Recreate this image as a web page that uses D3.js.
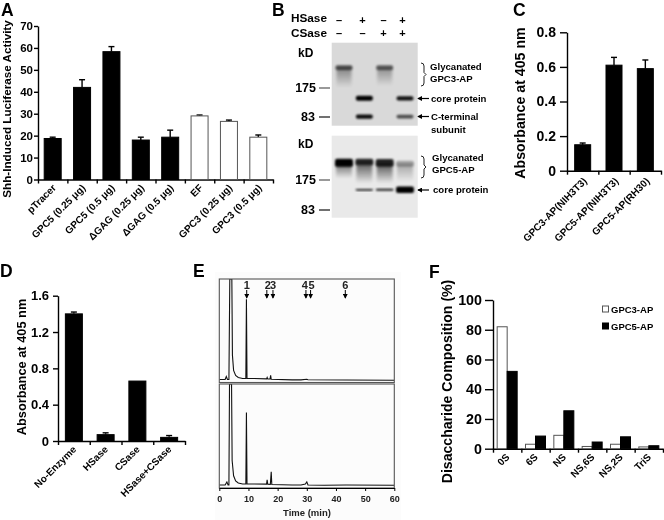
<!DOCTYPE html>
<html><head><meta charset="utf-8">
<style>html,body{margin:0;padding:0;background:#fff}svg{display:block;font-family:"Liberation Sans",Arial,sans-serif;font-weight:bold;fill:#000;filter:blur(0.35px)}</style>
<script src="https://cdn.jsdelivr.net/npm/d3@7/dist/d3.min.js"></script></head><body>
<svg id="c" width="664" height="520"></svg>
<script>
// Panel A
const aCats=["pTracer","GPC5 (0.25 μg)","GPC5 (0.5 μg)","ΔGAG (0.25 μg)","ΔGAG (0.5 μg)","EF","GPC3 (0.25 μg)","GPC3 (0.5 μg)"];
const aVals=[18.7,42,58.3,18,19.3,29,26.5,19.3];
const aErrs=[0.6,3.5,2.3,1.3,3.2,0.4,0.6,1];
const aFill=["k","k","k","k","k","w","w","w"];
const aTicks=[0,10,20,30,40,50,60,70];
// Panel C
const cCats=["GPC3-AP(NIH3T3)","GPC5-AP(NIH3T3)","GPC5-AP(RH30)"];
const cVals=[0.15,0.61,0.59];
const cErrs=[0.01,0.045,0.05];
const cTicks=[0,0.2,0.4,0.6,0.8];
// Panel D
const dCats=["No-Enzyme","HSase","CSase","HSase+CSase"];
const dVals=[1.4,0.07,0.66,0.04];
const dErrs=[0.02,0.02,0,0.02];
const dTicks=[0,0.4,0.8,1.2,1.6];
// Panel F
const fCats=["0S","6S","NS","NS,6S","NS,2S","TriS"];
const fGPC3=[82,3,9,1.5,3,1.2];
const fGPC5=[52,8.5,25.5,4.5,8,2];
const fTicks=[0,20,40,60,80,100];
// Panel E: chromatograms [minutes, % of full scale]
const eTop=[[0,1],[2,1],[2.4,4],[2.8,1],[3.3,1],[3.6,100],[4.3,100],[4.5,25],[4.9,10],[5.6,5],[6.5,3],[8,2],[9.1,2],[9.3,80],[9.5,2],[12,2],[16.2,1.6],[16.4,3],[16.6,1.5],[17.4,1.5],[17.6,5],[17.8,1.2],[25,0.6],[28,0.6],[30,1.2],[30.4,0.8],[43.5,0.5],[60,0.3]];
const eBot=[[0,1],[2,1],[2.6,4],[3,1],[3.3,1],[3.5,100],[4.2,100],[4.4,25],[4.9,10],[5.6,5],[6.5,3],[8,2],[9.1,2],[9.3,72],[9.5,2],[12,2],[16.2,1.8],[16.4,6],[16.6,1.8],[17.5,1.6],[17.8,14],[18,1.4],[25,1],[28,1],[29.5,2],[30,4],[30.4,1],[36,0.8],[43.5,1],[60,0.8]];
const eMarkers=[1,2,3,4,5,6];
const eMarkerTimes=[9.4,16.3,18.4,29.7,31.3,43.2];
const eTicks=[0,10,20,30,40,50,60];
// Panel B: blot bands [lane, migration %, thickness %, opacity]
const laneHS=["–","+","–","+"];
const laneCS=["–","–","+","+"];
const blotUpperBands=[[0,30,5.5,0.6],[2,30,5.5,0.55],[1,67,6,1],[3,67,5,0.92],[1,89,5,0.95],[3,89,4.5,0.65]];
const blotUpperSmear=[[0,30,24,0.4],[2,30,22,0.35]];
const blotLowerBands=[[0,33,10,1],[1,32,8,0.85],[2,33,9,0.85],[3,34,7,0.28],[1,66,2,0.9],[2,66,2.5,0.9],[3,66,8,1]];
const blotLowerSmear=[[0,34,18,0.55],[1,34,24,0.6],[2,34,24,0.65],[3,34,22,0.3]];

const svg=d3.select("#c");
const defs=svg.append("defs");
[["b1",1],["b2",1.6]].forEach(([id,s])=>defs.append("filter").attr("id",id).attr("x","-40%").attr("y","-80%").attr("width","180%").attr("height","260%").append("feGaussianBlur").attr("stdDeviation",s));
const fade=defs.append("linearGradient").attr("id","fade").attr("x1",0).attr("x2",0).attr("y1",0).attr("y2",1);
fade.append("stop").attr("offset",0).attr("stop-color","#000").attr("stop-opacity",1);
fade.append("stop").attr("offset",1).attr("stop-color","#000").attr("stop-opacity",0);
const m=defs.append("marker").attr("id","ah").attr("viewBox","0 0 6 6").attr("refX",5).attr("refY",3).attr("markerWidth",5).attr("markerHeight",5).attr("markerUnits","userSpaceOnUse").attr("orient","auto");
m.append("path").attr("d","M0,0L6,3L0,6Z");

function letter(t,x,y){svg.append("text").attr("x",x).attr("y",y).attr("font-size",17.5).text(t);}
letter("A",1,16);letter("B",272,16);letter("C",513,16);letter("D",0,277);letter("E",193,277);letter("F",429,278);

function frame(o){
  const y=d3.scaleLinear().domain(o.yDom).range([o.y0,o.y1]);
  const x=d3.scaleBand().domain(o.cats).range([o.x0,o.x1]);
  const idx=d3.scaleLinear().domain([0,o.cats.length]).range([o.x0,o.x1]);
  const g=svg.append("g");
  const ya=g.append("g").attr("transform",`translate(${o.x0},0)`).call(d3.axisLeft(y).tickValues(o.ticks).tickSize(o.tick).tickSizeOuter(0).tickPadding(o.pad).tickFormat(o.fmt));
  const xa=g.append("g").attr("transform",`translate(0,${o.y0})`).call(d3.axisBottom(idx).tickValues(d3.range(o.cats.length+1)).tickSize(4).tickSizeOuter(0).tickFormat(""));
  [ya,xa].forEach(a=>{a.selectAll("path,line").attr("stroke","#000").attr("stroke-width",o.sw||1.4);});
  ya.selectAll("text").attr("font-size",o.tfs).attr("font-family","inherit").attr("font-weight","bold").attr("fill","#000");
  g.selectAll("text.cat").data(o.cats).enter().append("text").attr("class","cat").attr("text-anchor","end").attr("font-size",o.cfs)
    .attr("transform",d=>`translate(${x(d)+x.bandwidth()/2+o.cdx},${o.y0+o.cdy}) rotate(-45)`).text(d=>d);
  svg.append("text").attr("transform",`translate(${o.tx},${o.ty}) rotate(-90)`).attr("text-anchor","middle").attr("font-size",o.tsz).text(o.title);
  return {x,y,g};
}
function bars(o,vals,errs,fills){
  const {x,y,g}=frame(o);
  const w=o.bw, cx=d=>x(d)+x.bandwidth()/2;
  const data=o.cats.map((c,i)=>({c,v:vals[i],e:errs[i],f:fills?fills[i]:"k"}));
  const eb=data.filter(d=>d.e>0);
  g.selectAll("line.e").data(eb).enter().append("line").attr("x1",d=>cx(d.c)).attr("x2",d=>cx(d.c)).attr("y1",d=>y(d.v)).attr("y2",d=>y(d.v+d.e)).attr("stroke",d=>d.e<o.greyBelow?"#444":"#000").attr("stroke-width",1.4);
  g.selectAll("line.c").data(eb).enter().append("line").attr("x1",d=>cx(d.c)-3).attr("x2",d=>cx(d.c)+3).attr("y1",d=>y(d.v+d.e)).attr("y2",d=>y(d.v+d.e)).attr("stroke","#000").attr("stroke-width",1.4);
  g.selectAll("rect").data(data).enter().append("rect").attr("x",d=>cx(d.c)-w/2).attr("width",w).attr("y",d=>y(d.v)).attr("height",d=>y(0)-y(d.v))
    .attr("fill",d=>d.f==="k"?"#000":"#fff").attr("stroke",d=>d.f==="k"?"#000":"#555").attr("stroke-width",1);
}
bars({cats:aCats,yDom:[0,70],x0:38,x1:273,y0:179.5,y1:26,ticks:aTicks,tick:4,pad:1,fmt:d3.format("d"),tfs:11.5,cfs:10,cdx:4,cdy:9,tx:10.8,ty:109,tsz:11.7,title:"Shh-Induced Luciferase Activity",bw:17,greyBelow:0},aVals,aErrs,aFill);
bars({cats:cCats,yDom:[0,0.8],x0:567,x1:661,y0:170.7,y1:32.3,ticks:cTicks,tick:7,pad:4,fmt:d=>d===0?"0":d3.format(".1f")(d),tfs:14,cfs:10,cdx:5,cdy:11,tx:525,ty:103,tsz:14.2,title:"Absorbance at 405 nm",bw:16,greyBelow:0},cVals,cErrs);
bars({cats:dCats,yDom:[0,1.6],x0:58,x1:185,y0:441,y1:295.7,ticks:dTicks,tick:5,pad:4,fmt:d=>d===0?"0":d3.format(".1f")(d),tfs:13,cfs:10,cdx:3,cdy:9,tx:26,ty:367,tsz:12.8,title:"Absorbance at 405 nm",bw:17,greyBelow:0.03},dVals,dErrs);

// Panel F
(function(){
  const o={cats:fCats,yDom:[0,100],x0:493,x1:663,y0:448.7,y1:300,ticks:fTicks,tick:8,pad:3,fmt:d3.format("d"),tfs:14.3,cfs:10,cdx:3,cdy:9,tx:452,ty:381.5,tsz:14.1,title:"Disaccharide Composition (%)"};
  const {x,y,g}=frame(o);
  const inner=d3.scaleBand().domain(["a","b"]).range([0,20]);
  const pts=fCats.flatMap((c,i)=>[{c,s:"a",v:fGPC3[i]},{c,s:"b",v:fGPC5[i]}]);
  g.selectAll("rect").data(pts).enter().append("rect").attr("x",d=>x(d.c)+x.bandwidth()/2-10+inner(d.s)).attr("width",inner.bandwidth()).attr("y",d=>y(d.v)).attr("height",d=>y(0)-y(d.v))
    .attr("fill",d=>d.s==="a"?"#fff":"#000").attr("stroke",d=>d.s==="a"?"#555":"#000").attr("stroke-width",1);
  const leg=[["GPC3-AP","#fff","#555",309],["GPC5-AP","#000","#000",326]];
  leg.forEach(([t,f,s,yy])=>{svg.append("rect").attr("x",602.5).attr("y",yy-3).attr("width",6).attr("height",6).attr("fill",f).attr("stroke",s);
    svg.append("text").attr("x",611).attr("y",yy+4).attr("font-size",9.5).text(t);});
})();

// Panel E
(function(){
  const x=d3.scaleLinear().domain([0,60]).range([219.3,394.3]);
  svg.append("rect").attr("x",215).attr("y",272).attr("width",186).attr("height",248).attr("fill","#fcfcfc");
  const boxes=[[279,382.5,eTop],[384,488,eBot]];
  boxes.forEach(([t,b,data])=>{
    const y=d3.scaleLinear().domain([0,100]).range([b-2,t]);
    const clip="cp"+t;
    defs.append("clipPath").attr("id",clip).append("rect").attr("x",x(0)).attr("y",t).attr("width",x(60)-x(0)).attr("height",b-t);
    svg.append("path").datum(data).attr("clip-path",`url(#${clip})`).attr("fill","none").attr("stroke","#111").attr("stroke-width",1.1).attr("d",d3.line().x(d=>x(d[0])).y(d=>y(d[1])));
    svg.append("rect").attr("x",x(0)).attr("y",t).attr("width",x(60)-x(0)).attr("height",b-t).attr("fill","none").attr("stroke","#555").attr("stroke-width",1.1);
  });
  const ax=svg.append("g").attr("transform","translate(0,488)").call(d3.axisBottom(x).tickValues(eTicks).tickSize(3).tickSizeOuter(0).tickPadding(5));
  ax.selectAll("path,line").attr("stroke","#000");
  ax.selectAll("text").attr("font-size",9).attr("font-family","inherit").attr("font-weight","bold").attr("fill","#222");
  svg.append("text").attr("x",307).attr("y",516).attr("text-anchor","middle").attr("font-size",9.5).attr("fill","#222").text("Time (min)");
  const off=[0,1,0,-1,1,0];
  eMarkers.forEach((n,i)=>{
    const xx=x(eMarkerTimes[i]);
    svg.append("text").attr("x",xx+off[i]).attr("y",289).attr("text-anchor","middle").attr("font-size",11).attr("fill","#222").text(n);
    svg.append("line").attr("x1",xx).attr("x2",xx).attr("y1",290).attr("y2",298).attr("stroke","#000").attr("marker-end","url(#ah)");
  });
})();

// Panel B
(function(){
  const g=svg.append("g");
  const lane=d3.scalePoint().domain([0,1,2,3]).range([344,405]);
  [["HSase",22,laneHS,24],["CSase",37,laneCS,36.8]].forEach(([t,yy,signs,sy])=>{
    g.append("text").attr("x",327).attr("y",yy).attr("text-anchor","end").attr("font-size",11.8).text(t);
    signs.forEach((s,i)=>g.append("text").attr("x",[339,362.5,383.5,402.5][i]).attr("y",sy).attr("text-anchor","middle").attr("font-size",11).text(s));
  });
  function blot(top,bot,bg,bands,smear,sw){
    const y=d3.scaleLinear().domain([0,100]).range([top,bot]);
    g.append("rect").attr("x",331.7).attr("y",top).attr("width",86).attr("height",bot-top).attr("fill",bg);
    const c=g.append("g");
    c.selectAll("rect.s").data(smear).enter().append("rect").attr("class","s").attr("x",d=>lane(d[0])-sw+1).attr("width",2*sw-2).attr("y",d=>y(d[1])).attr("height",d=>d[2]*(bot-top)/100).attr("fill","url(#fade)").attr("opacity",d=>d[3]).attr("filter","url(#b2)");
    c.selectAll("rect.b").data(bands).enter().append("rect").attr("class","b").attr("x",d=>lane(d[0])-sw).attr("width",2*sw).attr("y",d=>y(d[1])-d[2]*(bot-top)/200).attr("height",d=>d[2]*(bot-top)/100).attr("rx",2).attr("fill","#000").attr("opacity",d=>d[3]).attr("filter","url(#b1)");
  }
  blot(42.7,125.7,"#d9d9d9",blotUpperBands,blotUpperSmear,8.5);
  blot(135.7,217.7,"#e9e9e9",blotLowerBands,blotLowerSmear,9);
  [["kD",298,57,null],["175",316,92,88],["83",315,121,117],["kD",298,148,null],["175",316,184,180],["83",315,214,210]].forEach(([t,xx,yy,tk])=>{
    g.append("text").attr("x",xx).attr("y",yy).attr("text-anchor",tk?"end":"start").attr("font-size",t==="kD"?12:12.5).text(t);
    if(tk)g.append("line").attr("x1",319).attr("x2",330).attr("y1",tk).attr("y2",tk).attr("stroke",t==="175"?"#555":"#111").attr("stroke-width",1.2);
  });
  [["Glycanated",430,70],["GPC3-AP",430,82],["core protein",431,102],["C-terminal",431,120],["subunit",431,133],["Glycanated",432,161],["GPC5-AP",432,173],["core protein",433,193]].forEach(([t,xx,yy])=>
    g.append("text").attr("x",xx).attr("y",yy).attr("font-size",9.6).text(t));
  [[98.5],[116.5],[190]].forEach(([yy])=>g.append("line").attr("x1",429).attr("x2",418).attr("y1",yy).attr("y2",yy).attr("stroke","#000").attr("stroke-width",1.2).attr("marker-end","url(#ah)"));
  [[63,86],[156,178]].forEach(([a,b])=>{const c=(a+b)/2;g.append("path").attr("fill","none").attr("stroke","#222").attr("d",`M421,${a}Q424,${a} 424,${a+3}L424,${c-2}L426,${c}L424,${c+2}L424,${b-3}Q424,${b} 421,${b}`);});
})();
</script></body></html>
